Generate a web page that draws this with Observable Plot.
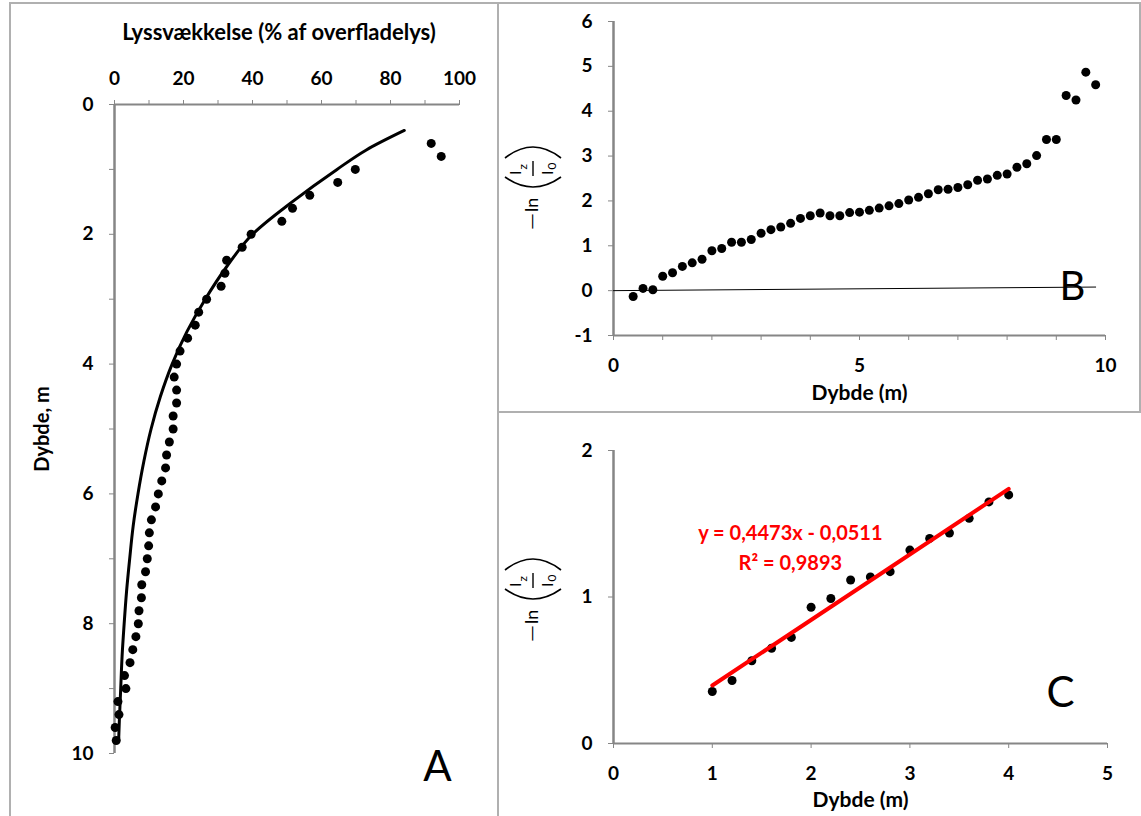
<!DOCTYPE html>
<html><head><meta charset="utf-8">
<script src="https://cdn.jsdelivr.net/npm/d3@7"></script>
<script src="https://cdn.jsdelivr.net/npm/@observablehq/plot@0.6"></script>
<style>
html,body{margin:0;padding:0;background:#fff;}
#root{position:relative;width:1141px;height:816px;overflow:hidden;font-family:Lato,sans-serif;}
.panel{position:absolute;}
.panel svg{overflow:visible;}
g[aria-label*="axis"] text{fill:#000;font-weight:bold;}
.frame{position:absolute;background:#b0b0b0;}
#overlay{position:absolute;left:0;top:0;pointer-events:none;}
</style></head><body><div id="root"></div>
<script>
// ---------- Panel A: light attenuation (% of surface light) vs depth ----------
const aDepth = [0.6,0.8,1.0,1.2,1.4,1.6,1.8,2.0,2.2,2.4,2.6,2.8,3.0,3.2,3.4,3.6,3.8,4.0,4.2,4.4,4.6,4.8,5.0,5.2,5.4,5.6,5.8,6.0,6.2,6.4,6.6,6.8,7.0,7.2,7.4,7.6,7.8,8.0,8.2,8.4,8.6,8.8,9.0,9.2,9.4,9.6,9.8];
const aLight = [91.8,94.7,69.8,64.7,56.6,51.6,48.5,39.6,37.0,32.5,32.0,30.9,26.7,24.4,23.4,21.2,19.0,18.0,17.3,18.0,18.0,17.0,17.0,15.9,15.1,14.8,13.7,12.7,11.9,10.7,10.1,9.9,9.5,9.0,7.9,7.8,7.1,6.9,6.2,5.3,4.5,2.9,3.3,1.0,1.3,0.2,0.5];
const curveDepth = [0.4,0.7,1.0,1.5,2.0,2.5,3.0,3.5,4.0,4.5,5.0,5.5,6.0,6.5,7.0,7.5,8.0,8.5,9.0,9.5,9.8];
const curveLight = [84,73,64.5,51.5,40,32.5,26.3,21,16.7,13.3,10.6,8.5,6.8,5.4,4.4,3.5,2.8,2.2,1.8,1.4,1.2];
const aXTicks = [0,10,20,30,40,50,60,70,80,90,100];
const aXLabels = [0,20,40,60,80,100];
const aYTicks = [0,1,2,3,4,5,6,7,8,9,10];
const aYLabels = [0,2,4,6,8,10];
const titleA = "Lyssvækkelse (% af overfladelys)";
const yTitleA = "Dybde, m";

// ---------- Panel B: -ln(Iz/I0) vs depth ----------
const bDepth = [0.4,0.6,0.8,1.0,1.2,1.4,1.6,1.8,2.0,2.2,2.4,2.6,2.8,3.0,3.2,3.4,3.6,3.8,4.0,4.2,4.4,4.6,4.8,5.0,5.2,5.4,5.6,5.8,6.0,6.2,6.4,6.6,6.8,7.0,7.2,7.4,7.6,7.8,8.0,8.2,8.4,8.6,8.8,9.0,9.2,9.4,9.6,9.8];
const bVal = [-0.13,0.05,0.02,0.32,0.40,0.54,0.62,0.70,0.89,0.94,1.08,1.08,1.14,1.28,1.36,1.42,1.50,1.61,1.67,1.73,1.67,1.67,1.74,1.75,1.79,1.84,1.89,1.94,2.02,2.08,2.16,2.25,2.26,2.30,2.36,2.46,2.49,2.57,2.60,2.75,2.83,3.01,3.37,3.37,4.35,4.25,4.87,4.59];
const bRefX = [0, 9.8];
const bRefY = [0, 0.08];
const bXTicks = [0,1,2,3,4,5,6,7,8,9,10];
const bXLabels = [0,5,10];
const bYTicks = [-1,0,1,2,3,4,5,6];

// ---------- Panel C: linear section with fit ----------
const cDepth = [1.0,1.2,1.4,1.6,1.8,2.0,2.2,2.4,2.6,2.8,3.0,3.2,3.4,3.6,3.8,4.0];
const cVal = [0.355,0.43,0.565,0.65,0.724,0.93,0.99,1.116,1.137,1.173,1.32,1.40,1.437,1.537,1.649,1.697];
const trendX = [1, 4];
const trendY = [0.396, 1.738];
const eqText = ["y = 0,4473x - 0,0511", "R² = 0,9893"];
const cXTicks = [0,1,2,3,4,5];
const cYTicks = [0,1,2];
const xTitleBC = "Dybde (m)";

const FONT = "Lato, sans-serif";
const AXIS = "#868686";
const baseStyle = {fontFamily: FONT, fontSize: "19px", color: AXIS, background: "transparent", overflow: "visible"};
const fmt = d => String(d);
const mid = {textAnchor: "middle", lineAnchor: "middle"};
const root = document.getElementById("root");
function place(svg, left, top) {
  const d = document.createElement("div");
  d.className = "panel"; d.style.left = left + "px"; d.style.top = top + "px";
  d.appendChild(svg); root.appendChild(d);
}

const aPts = aDepth.map((d, i) => ({depth: d, light: aLight[i]}));
const aCurve = curveDepth.map((d, i) => ({depth: d, light: curveLight[i]}));
const plotA = Plot.plot({
  width: 498, height: 816,
  marginLeft: 114, marginRight: 39, marginTop: 104, marginBottom: 63,
  style: baseStyle,
  x: {domain: [0, 100], axis: "top", ticks: aXTicks, tickFormat: d => aXLabels.includes(d) ? fmt(d) : "", tickSize: 5, tickPadding: 15, label: null},
  y: {domain: [0, 10], reverse: true, axis: "left", ticks: aYTicks, tickFormat: d => aYLabels.includes(d) ? fmt(d) : "", tickSize: 5, tickPadding: 16, label: null},
  marks: [
    Plot.ruleY([0], {stroke: AXIS, strokeWidth: 2}),
    Plot.ruleX([0], {stroke: AXIS, strokeWidth: 2.5}),
    Plot.line(aCurve, {x: "light", y: "depth", curve: "monotone-y", stroke: "black", strokeWidth: 3}),
    Plot.dot(aPts, {x: "light", y: "depth", r: 4.5, fill: "black", stroke: "none"}),
    Plot.text([titleA], {...mid, text: d => d, frameAnchor: "top", dx: -8, dy: -72, fontSize: 22, fontWeight: "bold", fill: "black"}),
    Plot.text([yTitleA], {...mid, text: d => d, frameAnchor: "left", dx: -72, rotate: -90, fontSize: 20, fontWeight: "bold", fill: "black"}),
    Plot.text(["A"], {...mid, text: d => d, frameAnchor: "bottom-right", dx: -22, dy: 14, fontSize: 42, fill: "black"})
  ]
});
place(plotA, 0, 0);

const bPts = bDepth.map((d, i) => ({depth: d, v: bVal[i]}));
const bRef = bRefX.map((d, i) => ({depth: d, v: bRefY[i]}));
const plotB = Plot.plot({
  width: 643, height: 412,
  marginLeft: 115, marginRight: 36, marginTop: 21, marginBottom: 77,
  style: baseStyle,
  x: {domain: [0, 10], ticks: bXTicks, tickFormat: d => bXLabels.includes(d) ? fmt(d) : "", tickSize: 5, tickPadding: 18, label: null},
  y: {domain: [-1, 6], ticks: bYTicks, tickFormat: fmt, tickSize: 5, tickPadding: 16, label: null},
  marks: [
    Plot.ruleY([-1], {stroke: AXIS, strokeWidth: 2}),
    Plot.ruleX([0], {stroke: AXIS, strokeWidth: 2.5}),
    Plot.line(bRef, {x: "depth", y: "v", stroke: "black", strokeWidth: 1}),
    Plot.dot(bPts, {x: "depth", y: "v", r: 4.5, fill: "black", stroke: "none"}),
    Plot.text(["B"], {...mid, text: d => d, frameAnchor: "bottom-right", dx: -33, dy: -48, fontSize: 40, fill: "black"}),
    Plot.text([xTitleBC], {...mid, text: d => d, frameAnchor: "bottom", dy: 58, fontSize: 21, fontWeight: "bold", fill: "black"})
  ]
});
place(plotB, 498, 0);

const cPts = cDepth.map((d, i) => ({depth: d, v: cVal[i]}));
const cTrend = trendX.map((d, i) => ({depth: d, v: trendY[i]}));
const plotC = Plot.plot({
  width: 643, height: 404,
  marginLeft: 115, marginRight: 34, marginTop: 38, marginBottom: 73,
  style: baseStyle,
  x: {domain: [0, 5], ticks: cXTicks, tickFormat: fmt, tickSize: 5, tickPadding: 18, label: null},
  y: {domain: [0, 2], ticks: cYTicks, tickFormat: fmt, tickSize: 5, tickPadding: 16, label: null},
  marks: [
    Plot.ruleY([0], {stroke: AXIS, strokeWidth: 2}),
    Plot.ruleX([0], {stroke: AXIS, strokeWidth: 2.5}),
    Plot.dot(cPts, {x: "depth", y: "v", r: 4.5, fill: "black", stroke: "none"}),
    Plot.line(cTrend, {x: "depth", y: "v", stroke: "#ff0000", strokeWidth: 4}),
    Plot.text([eqText[0]], {text: d => d, x: 1.79, y: 1.432, fontSize: 20, fontWeight: "bold", fill: "#ff0000"}),
    Plot.text([eqText[1]], {text: d => d, x: 1.79, y: 1.227, fontSize: 20, fontWeight: "bold", fill: "#ff0000"}),
    Plot.text(["C"], {...mid, text: d => d, frameAnchor: "bottom-right", dx: -47, dy: -50, fontSize: 42, fill: "black"}),
    Plot.text([xTitleBC], {...mid, text: d => d, frameAnchor: "bottom", dy: 57, fontSize: 21, fontWeight: "bold", fill: "black"})
  ]
});
place(plotC, 498, 412);

// panel frames
[[10,2,1131,2],[9,2,2,814],[497,2,2,814],[497,411,644,2],[1139,2,2,411]].forEach(([l,t,w,h]) => {
  const d = document.createElement("div"); d.className = "frame";
  Object.assign(d.style, {left: l+"px", top: t+"px", width: w+"px", height: h+"px"});
  root.appendChild(d);
});

// rotated -ln(Iz/I0) axis titles
function lnLabel(cx, by) {
  return `<g transform="translate(${cx},${by}) rotate(-90)" font-family="${FONT}" fill="#000">
    <text x="0" y="5" font-size="18" textLength="17" lengthAdjust="spacingAndGlyphs">—</text>
    <text x="18" y="5" font-size="18">ln</text>
    <path d="M53,-28 Q33,0 53,28" fill="none" stroke="#000" stroke-width="1.6"/>
    <path d="M72,-28 Q94,0 72,28" fill="none" stroke="#000" stroke-width="1.6"/>
    <line x1="54" x2="69" y1="0" y2="0" stroke="#000" stroke-width="1.4"/>
    <text x="55" y="-12" font-size="16">I<tspan font-size="12" dx="1" dy="6">z</tspan></text>
    <text x="55" y="20" font-size="16">I<tspan font-size="12" dx="1" dy="3">0</tspan></text>
  </g>`;
}
const ov = document.createElement("div");
ov.innerHTML = `<svg id="overlay" width="1141" height="816" xmlns="http://www.w3.org/2000/svg">${lnLabel(533,230)}${lnLabel(533,642)}</svg>`;
root.appendChild(ov.firstElementChild);
</script></body></html>
